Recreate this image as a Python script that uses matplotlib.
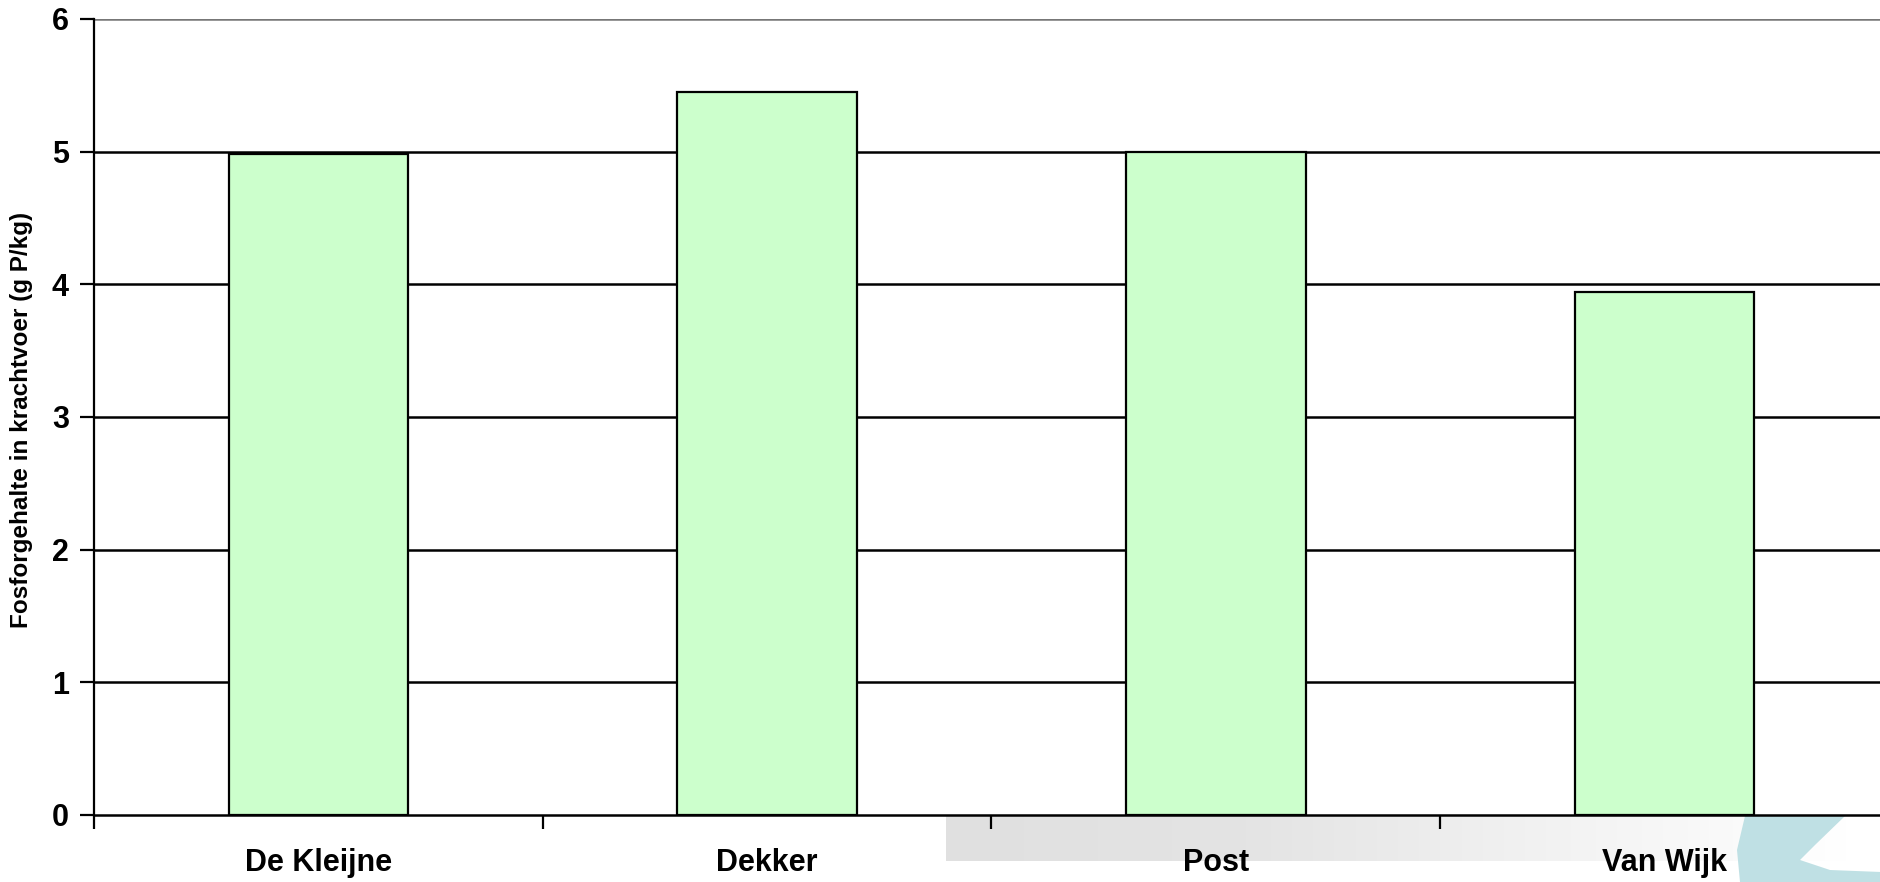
import matplotlib
matplotlib.use("Agg")
import matplotlib.pyplot as plt
import numpy as np
from matplotlib.patches import Polygon

categories = ["De Kleijne", "Dekker", "Post", "Van Wijk"]
values = [4.98, 5.45, 5.0, 3.94]
yticks = [0, 1, 2, 3, 4, 5, 6]
ylabel = "Fosforgehalte in krachtvoer (g P/kg)"

W, H = 1881, 882
fig = plt.figure(figsize=(W / 100, H / 100), dpi=100)
fig.patch.set_facecolor("white")

# decorative background: gray gradient strip and teal shape
bg = fig.add_axes([0, 0, 1, 1], zorder=0)
bg.set_xlim(0, W)
bg.set_ylim(H, 0)
bg.axis("off")
grad = np.linspace(0, 1, 256).reshape(1, -1)
cmap = matplotlib.colors.LinearSegmentedColormap.from_list(
    "g", ["#e0e0e0", "#e4e4e4", "#f2f2f2", "#ffffff"])
bg.imshow(grad, extent=[946, 1850, 861, 816], aspect="auto", cmap=cmap, zorder=1)
teal = Polygon([[1745, 816], [1845, 816], [1815, 845], [1800, 860], [1830, 870],
                [1881, 872], [1881, 882], [1740, 882], [1737, 850]],
               closed=True, facecolor="#bfe0e4", edgecolor="none", zorder=2)
bg.add_patch(teal)

left = 94 / W
right = 1889 / W
bottom = 1 - 815 / H
top = 1 - 19 / H
ax = fig.add_axes([left, bottom, right - left, top - bottom], zorder=1)
ax.patch.set_alpha(0)

x = np.arange(len(categories))
ax.bar(x, values, width=0.4, color="#ccffcc", edgecolor="black", linewidth=1.6, zorder=3)

ax.set_xlim(-0.5, len(categories) - 0.5)
ax.set_ylim(0, 6)
ax.set_yticks(yticks)
for yv in yticks[1:]:
    ax.axhline(yv, color="#777777" if yv == 6 else "black", linewidth=1.8, zorder=2)

ax.set_xticks(x)
ax.set_xticklabels(categories, fontfamily="Liberation Sans", fontweight="bold", fontsize=22)
ax.set_xticks(np.arange(len(categories) + 1) - 0.5, minor=True)
ax.tick_params(axis="x", which="major", length=0, pad=24)
ax.tick_params(axis="x", which="minor", length=10, width=1.6, direction="out")
ax.tick_params(axis="y", length=10, width=1.6, direction="out", pad=8)
for lab in ax.get_yticklabels():
    lab.set_fontfamily("Liberation Sans")
    lab.set_fontweight("bold")
    lab.set_fontsize(22)

for s in ["top", "right"]:
    ax.spines[s].set_visible(False)
ax.spines["left"].set_linewidth(1.6)
ax.spines["bottom"].set_linewidth(1.8)

fig.text(22 / W, 1 - 420 / H, ylabel, rotation=90, ha="center", va="center",
         fontfamily="Liberation Sans", fontweight="bold", fontsize=17.5)

fig.savefig("out.png", dpi=100)
